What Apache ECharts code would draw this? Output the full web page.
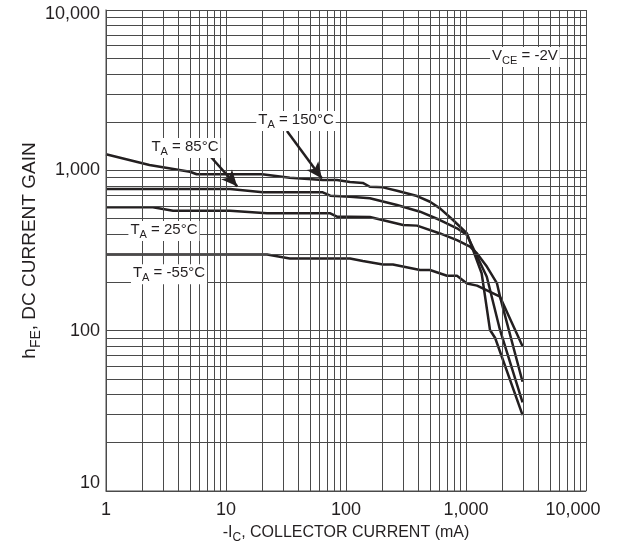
<!DOCTYPE html>
<html>
<head>
<meta charset="utf-8">
<script src="https://cdn.jsdelivr.net/npm/echarts@6/dist/echarts.min.js"></script>
<style>
  html, body { margin: 0; padding: 0; background: #fff; }
  #chart { width: 623px; height: 543px; }
</style>
</head>
<body>
<div id="chart"></div>
<script>
// collector current (mA) and dc current gain, one pair of arrays per temperature
var ic150 = [1, 2.3, 5, 5.7, 20, 34, 64, 84, 108, 138, 158, 203, 266, 391, 501, 607, 779, 1019, 1350, 1585, 1750, 2960];
var hfe150 = [1260, 1080, 980, 945, 945, 900, 870, 870, 845, 835, 790, 783, 746, 691, 637, 579, 490, 404, 228, 101, 90, 29.7];

var ic85 = [1, 10.8, 20.3, 64, 74, 108, 158, 266, 414, 607, 841, 1019, 1490, 1920, 2960];
var hfe85 = [764, 764, 729, 729, 695, 684, 669, 608, 552, 490, 435, 395, 217, 101, 35.7];

var ic25 = [1, 2.46, 3.62, 10.8, 22, 74, 84, 108, 158, 299, 391, 607, 841, 1080, 1236, 1496, 1813, 1920, 2960];
var hfe25 = [588, 588, 560, 560, 539, 539, 514, 514, 512, 456, 452, 404, 367, 334, 303, 250, 197, 163, 48];

var icM55 = [1, 22, 34, 108, 138, 203, 246, 414, 501, 695, 841, 1019, 1236, 1920, 2960];
var hfeM55 = [299, 299, 282, 282, 272, 259, 259, 239, 239, 220, 220, 197, 191, 163, 80];

// tick labels
var xTickLabels = ['1', '10', '100', '1,000', '10,000'];
var yTickLabels = ['10', '100', '1,000', '10,000'];

// log grid: decades times 1..9
var xDecades = [1, 10, 100, 1000];
var yDecades = [10, 100, 1000];
var steps = [1, 2, 3, 4, 5, 6, 7, 8, 9];

var ink = '#231f20';
var gridColor = '#4a4a4a';
var font = 'Liberation Sans';

function pairs(xs, ys) {
    var out = [];
    for (var i = 0; i < xs.length; i++) {
        out.push([xs[i], ys[i]]);
    }
    return out;
}

var gridLines = [];
xDecades.forEach(function (d) {
    steps.forEach(function (s) { gridLines.push({ xAxis: d * s }); });
});
gridLines.push({ xAxis: 10000 });
yDecades.forEach(function (d) {
    steps.forEach(function (s) { gridLines.push({ yAxis: d * s }); });
});
gridLines.push({ yAxis: 10000 });

var rich = {
    n: { fontSize: 15, color: ink, fontFamily: font, lineHeight: 18, verticalAlign: 'top' },
    s: { fontSize: 11, color: ink, fontFamily: font, lineHeight: 11, padding: [8, 0, 0, 0] }
};

function nameRich(size) {
    return {
        n: { fontSize: size, color: ink, fontFamily: font, lineHeight: size + 3, verticalAlign: 'top' },
        s: { fontSize: Math.round(size * 0.72), color: ink, fontFamily: font, lineHeight: Math.round(size * 0.72), padding: [Math.round(size / 2), 0, 0, 0] }
    };
}

function note(coord, text) {
    return {
        coord: coord,
        label: {
            show: true,
            position: 'inside',
            formatter: text,
            backgroundColor: '#fff',
            padding: [1, 2, 1, 2],
            rich: rich
        }
    };
}

function curve(name, xs, ys) {
    return {
        name: name,
        type: 'line',
        data: pairs(xs, ys),
        showSymbol: false,
        symbol: 'none',
        z: 3,
        lineStyle: { color: ink, width: 2.5 },
        animation: false
    };
}

var myChart = echarts.init(document.getElementById('chart'), null, { renderer: 'canvas' });
var option = {
    backgroundColor: '#fff',
    animation: false,
    grid: { left: 106, right: 37, top: 10, bottom: 52, outerBoundsMode: 'none', containLabel: false },
    xAxis: {
        type: 'log',
        logBase: 10,
        min: 1,
        max: 10000,
        name: '{n|-I}{s|C}{n|, COLLECTOR CURRENT (mA)}',
        nameLocation: 'middle',
        nameGap: 30,
        nameTextStyle: { rich: nameRich(16) },
        axisLine: { show: true, lineStyle: { color: '#888', width: 1.5 } },
        axisTick: { show: false },
        splitLine: { show: false },
        axisLabel: {
            color: ink,
            fontSize: 18,
            fontFamily: font,
            margin: 10,
            formatter: function (v) {
                var i = Math.round(Math.log10(v));
                // last label sits a little to the left, like the original
                return i === 4 ? '{e|' + xTickLabels[i] + '}' : xTickLabels[i];
            },
            rich: {
                e: { fontSize: 18, color: ink, fontFamily: font, padding: [0, 26, 0, 0] }
            }
        }
    },
    yAxis: {
        type: 'log',
        logBase: 10,
        min: 10,
        max: 10000,
        name: '{n|h}{s|FE}{n|, DC CURRENT GAIN}',
        nameLocation: 'middle',
        nameRotate: 90,
        nameGap: 64,
        nameMoveOverlap: false,
        nameTextStyle: { rich: nameRich(19) },
        axisLine: { show: true, lineStyle: { color: '#888', width: 1.5 } },
        axisTick: { show: false },
        splitLine: { show: false },
        axisLabel: {
            color: ink,
            fontSize: 18,
            fontFamily: font,
            margin: 6,
            formatter: function (v) {
                var i = Math.round(Math.log10(v)) - 1;
                if (i === 0) return '{lo|' + yTickLabels[i] + '}';
                if (i === 3) return '{hi|' + yTickLabels[i] + '}';
                return yTickLabels[i];
            },
            rich: {
                lo: { fontSize: 18, color: ink, fontFamily: font, padding: [0, 0, 16, 0] },
                hi: { fontSize: 18, color: ink, fontFamily: font, padding: [8, 0, 0, 0] }
            }
        }
    },
    series: [
        {
            name: 'grid',
            type: 'line',
            data: [],
            z: 1,
            silent: true,
            markLine: {
                silent: true,
                symbol: 'none',
                animation: false,
                label: { show: false },
                lineStyle: { type: 'solid', color: gridColor, width: 1 },
                data: gridLines
            }
        },
        curve('150', ic150, hfe150),
        curve('85', ic85, hfe85),
        curve('25', ic25, hfe25),
        curve('-55', icM55, hfeM55),
        {
            name: 'notes',
            type: 'line',
            data: [],
            z: 5,
            silent: true,
            markLine: {
                silent: true,
                animation: false,
                symbol: ['none', 'arrow'],
                symbolSize: [11, 16],
                label: { show: false },
                lineStyle: { type: 'solid', color: ink, width: 2.5 },
                data: [
                    [{ coord: [32.2, 1758] }, { coord: [63, 890] }],
                    [{ coord: [7.36, 1228] }, { coord: [12.4, 795] }]
                ]
            },
            markPoint: {
                silent: true,
                animation: false,
                symbol: 'circle',
                symbolSize: 1,
                itemStyle: { color: 'rgba(0,0,0,0)' },
                data: [
                    note([38.3, 2030], '{n|T}{s|A}{n| = 150°C}'),
                    note([4.55, 1377], '{n|T}{s|A}{n| = 85°C}'),
                    note([3.04, 418], '{n|T}{s|A}{n| = 25°C}'),
                    note([3.35, 225], '{n|T}{s|A}{n| = -55°C}'),
                    note([3100, 5090], '{n|V}{s|CE}{n| = -2V}')
                ]
            }
        }
    ]
};
myChart.setOption(option);
</script>
</body>
</html>
